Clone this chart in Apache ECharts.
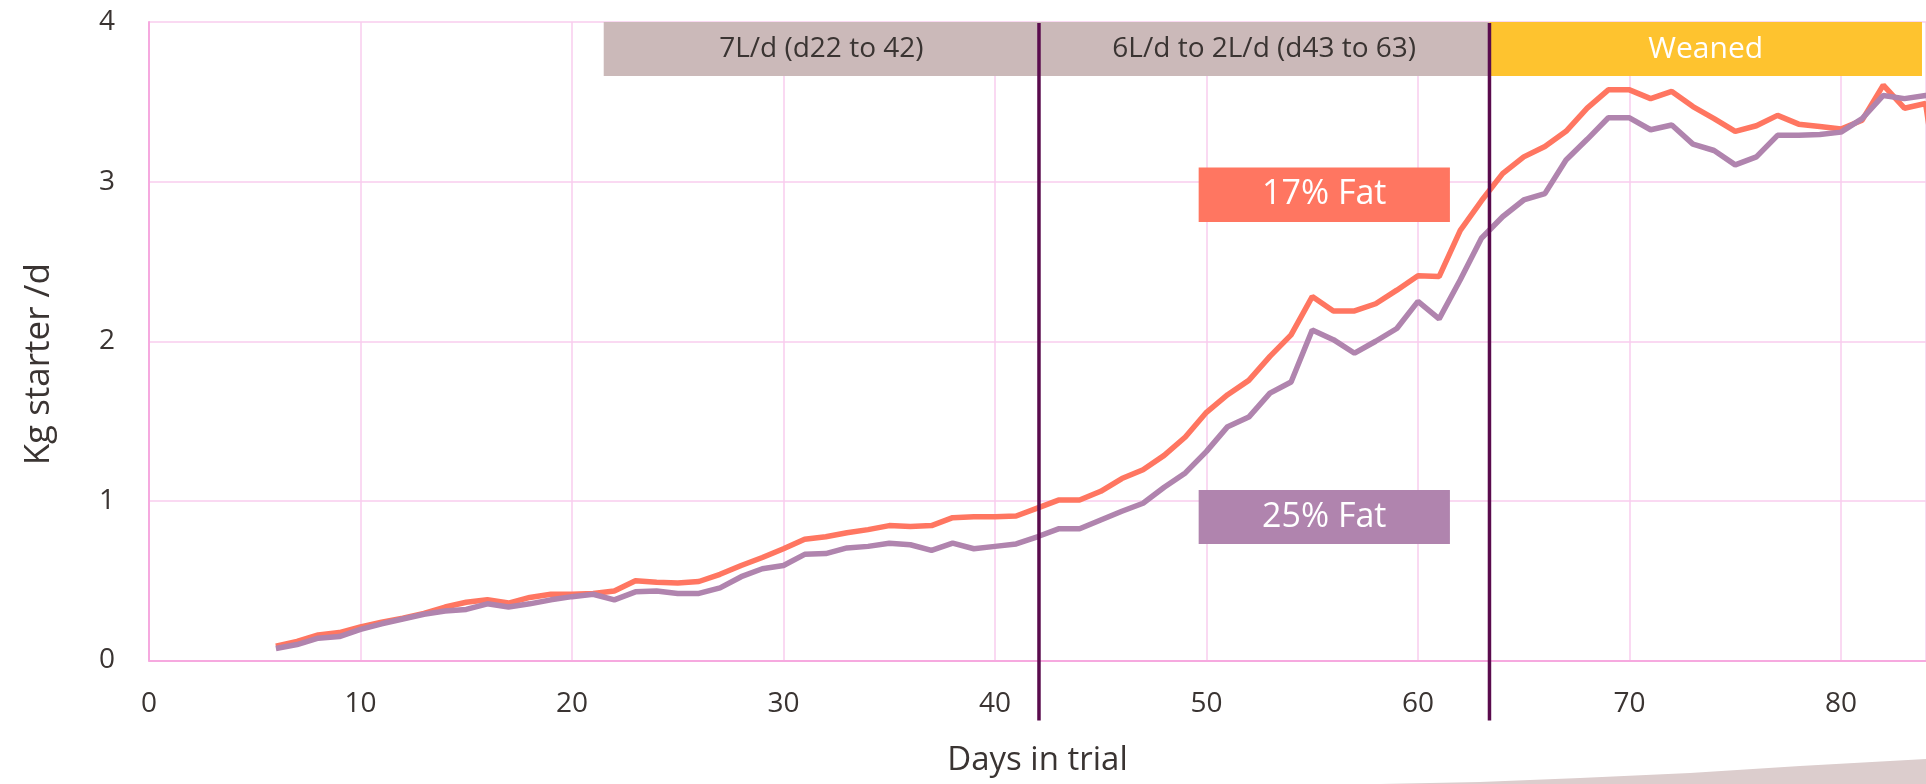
<!DOCTYPE html>
<html>
<head>
<meta charset="utf-8">
<style>
  html, body { margin: 0; padding: 0; background: #fff; }
  #chart { width: 1926px; height: 784px; }
</style>
<script src="https://cdn.jsdelivr.net/npm/echarts@6/dist/echarts.min.js"></script>
</head>
<body>
<div id="chart"></div>
<script>
// days in trial
const days = [6, 7, 8, 9, 10, 11, 12, 13, 14, 15, 16, 17, 18, 19, 20, 21, 22, 23, 24, 25,
  26, 27, 28, 29, 30, 31, 32, 33, 34, 35, 36, 37, 38, 39, 40, 41, 42, 43, 44, 45,
  46, 47, 48, 49, 50, 51, 52, 53, 54, 55, 56, 57, 58, 59, 60, 61, 62, 63, 64, 65,
  66, 67, 68, 69, 70, 71, 72, 73, 74, 75, 76, 77, 78, 79, 80, 81, 82, 83, 84, 85];

// kg starter per day, 17% fat milk replacer
const fat17 = [0.09, 0.12, 0.16, 0.175, 0.21, 0.24, 0.265, 0.295, 0.335, 0.365,
  0.38, 0.36, 0.395, 0.415, 0.415, 0.42, 0.435, 0.50, 0.49, 0.485,
  0.495, 0.54, 0.595, 0.645, 0.70, 0.76, 0.775, 0.80, 0.82, 0.845,
  0.84, 0.845, 0.895, 0.90, 0.90, 0.905, 0.955, 1.005, 1.005, 1.06,
  1.14, 1.195, 1.285, 1.40, 1.555, 1.665, 1.755, 1.905, 2.04, 2.28,
  2.19, 2.19, 2.235, 2.32, 2.41, 2.405, 2.695, 2.88, 3.05, 3.155,
  3.22, 3.315, 3.46, 3.575, 3.575, 3.52, 3.565, 3.47, 3.395, 3.315,
  3.35, 3.415, 3.36, 3.345, 3.33, 3.385, 3.605, 3.46, 3.49, 2.6];

// kg starter per day, 25% fat milk replacer
const fat25 = [0.075, 0.10, 0.14, 0.15, 0.195, 0.23, 0.26, 0.29, 0.31, 0.32,
  0.355, 0.335, 0.355, 0.38, 0.40, 0.415, 0.38, 0.43, 0.435, 0.42,
  0.42, 0.455, 0.525, 0.575, 0.595, 0.665, 0.67, 0.705, 0.715, 0.735,
  0.725, 0.69, 0.735, 0.70, 0.715, 0.73, 0.775, 0.825, 0.825, 0.88,
  0.935, 0.985, 1.085, 1.175, 1.31, 1.465, 1.525, 1.675, 1.745, 2.07,
  2.01, 1.925, 2.0, 2.08, 2.25, 2.14, 2.385, 2.645, 2.78, 2.885,
  2.925, 3.135, 3.265, 3.40, 3.40, 3.325, 3.355, 3.235, 3.195, 3.105,
  3.155, 3.29, 3.29, 3.295, 3.31, 3.395, 3.54, 3.52, 3.54, 3.55];

// feeding phases (day ranges) and their labels
const phaseNames = ['7L/d (d22 to 42)', '6L/d to 2L/d (d43 to 63)', 'Weaned'];
const phaseBounds = [21.5, 42.08, 63.38, 83.83];
const phaseSplits = [42.08, 63.38];

const seriesNames = ['17% Fat', '25% Fat'];

const FONT = '"Open Sans", "Noto Sans", sans-serif';
const ORANGE = '#ff7661';
const PURPLE = '#b084ae';
const PINK_GRID = '#f9cdee';
const DARK = '#5a0b4d';

const chart = echarts.init(document.getElementById('chart'));

const phaseColors = ['#cbb9b9', '#cbb9b9', '#fec32f'];
const phaseText = ['#3a3432', '#3a3432', '#ffffff'];
const phaseAreas = phaseNames.map((n, i) => [
  {
    name: n, xAxis: phaseBounds[i], yAxis: 3.662,
    itemStyle: { color: phaseColors[i], opacity: 1 },
    label: { color: phaseText[i], fontSize: i === 2 ? 30 : 28 }
  },
  { xAxis: phaseBounds[i + 1], yAxis: 4 }
]);

// legend boxes sit in the plot area
const boxColors = [ORANGE, PURPLE];
const boxTops = [3.088, 1.068];
const boxBottoms = [2.747, 0.730];
const boxAreas = seriesNames.map((n, i) => [
  {
    name: n, xAxis: 49.63, yAxis: boxTops[i],
    itemStyle: { color: boxColors[i], opacity: 1 },
    label: { color: '#fff', fontSize: 34 }
  },
  { xAxis: 61.51, yAxis: boxBottoms[i] }
]);

const option = {
  animation: false,
  textStyle: { fontFamily: FONT },
  grid: { left: 149, right: 0, top: 22, bottom: 123.5 },
  xAxis: {
    type: 'value',
    min: 0,
    max: 84.02,
    interval: 10,
    name: 'Days in trial',
    nameLocation: 'middle',
    nameGap: 84,
    nameTextStyle: { fontSize: 33, color: '#3a3432', fontFamily: FONT },
    axisLine: { show: true, onZero: false, lineStyle: { color: '#f6a9df', width: 2 } },
    axisTick: { show: false },
    axisLabel: { fontSize: 28, color: '#3a3432', margin: 30, showMaxLabel: false, fontFamily: FONT },
    splitLine: { show: true, lineStyle: { color: PINK_GRID, width: 1.5 } }
  },
  yAxis: {
    type: 'value',
    min: 0,
    max: 4,
    interval: 1,
    name: 'Kg starter /d',
    nameLocation: 'middle',
    nameGap: 92,
    nameTextStyle: { fontSize: 35, color: '#3a3432', fontFamily: FONT, padding: [0, 46, 0, 0] },
    axisLine: { show: true, lineStyle: { color: '#f6a9df', width: 2 } },
    axisTick: { show: false },
    axisLabel: { fontSize: 28, color: '#3a3432', margin: 34, fontFamily: FONT },
    splitLine: { show: true, lineStyle: { color: PINK_GRID, width: 1.5 } }
  },
  series: [
    {
      name: seriesNames[0],
      type: 'line',
      data: days.map((d, i) => [d, fat17[i]]),
      symbol: 'none',
      lineStyle: { color: ORANGE, width: 5.5 },
      itemStyle: { color: ORANGE },
      z: 4,
      markArea: {
        silent: true,
        label: { show: true, position: 'inside', fontFamily: FONT },
        data: phaseAreas.concat(boxAreas)
      }
    },
    {
      name: seriesNames[1],
      type: 'line',
      data: days.map((d, i) => [d, fat25[i]]),
      symbol: 'none',
      lineStyle: { color: PURPLE, width: 5.5 },
      itemStyle: { color: PURPLE },
      z: 5
    }
  ]
};

chart.setOption(option);

// phase divider lines run from the top of the plot down past the axis
const plotTop = chart.convertToPixel({ gridIndex: 0 }, [0, 4])[1];
const plotBase = chart.convertToPixel({ gridIndex: 0 }, [0, 0])[1];
const graphics = phaseSplits.map(d => {
  const x = chart.convertToPixel({ gridIndex: 0 }, [d, 0])[0];
  return {
    type: 'line',
    z: 100,
    shape: { x1: x, y1: plotTop + 1, x2: x, y2: plotBase + 60 },
    style: { stroke: DARK, lineWidth: 3.5 }
  };
});
// faint paint stroke decoration, bottom right
graphics.push({
  type: 'polygon',
  z: -1,
  shape: {
    points: [[1380, 784], [1480, 782], [1580, 778], [1690, 773], [1800, 766], [1926, 759], [1926, 784]]
  },
  style: { fill: '#dccdcd' }
});
chart.setOption({ graphic: graphics });
</script>
</body>
</html>
